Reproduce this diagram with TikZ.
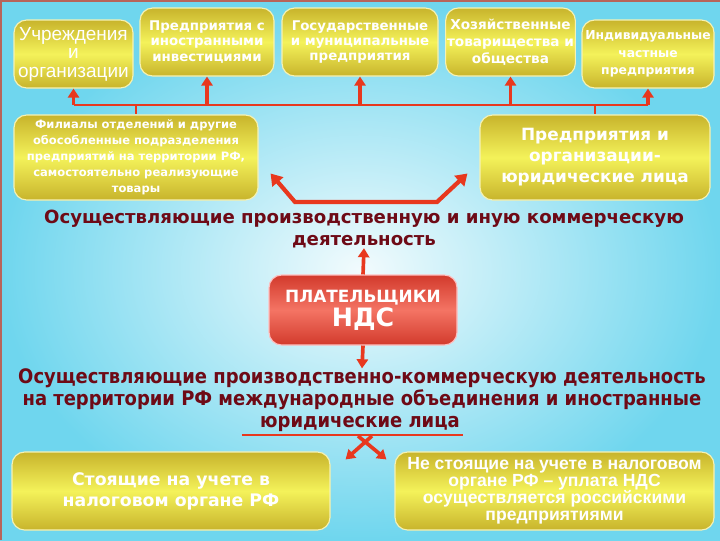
\documentclass[tikz,border=0pt]{standalone}
\usepackage{fontspec}
\setmainfont{DejaVu Sans}
\newfontfamily\arialfont{Liberation Sans}
\newfontfamily\condfont{DejaVu Sans Condensed}
\usetikzlibrary{calc,arrows.meta}
\usepackage{xcolor}

\definecolor{bgin}{HTML}{F2FBFD}
\definecolor{bgout}{HTML}{6FD6EE}
\definecolor{framecol}{HTML}{B8645A}
\definecolor{boxdark}{HTML}{C8B42C}
\definecolor{boxlight}{HTML}{F4F25A}
\definecolor{boxedge}{HTML}{F6F2B4}
\definecolor{reddark}{HTML}{D23A2C}
\definecolor{redlight}{HTML}{F47464}
\definecolor{arrowred}{HTML}{E8381E}
\definecolor{titlecol}{HTML}{6E0A16}

\newcommand{\px}{0.025cm}

\tikzset{
  ybox/.style={rounded corners=9pt, draw=boxedge, line width=0.8pt,
    top color=boxdark, bottom color=boxdark, middle color=boxlight,
    text=white, align=center, inner sep=1pt},
  paybox/.style={rounded corners=9pt, draw=red!25!white, line width=0.8pt,
    top color=reddark, bottom color=reddark, middle color=redlight,
    text=white, align=center, inner sep=1pt},
  busline/.style={draw=arrowred, line width=2pt},
  uparrow/.style={draw=arrowred, line width=2.6pt,
    -{Triangle[width=8pt,length=6.5pt]}},
  fatarrow/.style={draw=arrowred, line width=3pt,
    {Triangle[width=10pt,length=8pt]}-{Triangle[width=10pt,length=8pt]}},
  titletext/.style={text=titlecol, align=center, inner sep=0pt}
}

\begin{document}
\begin{tikzpicture}[x=\px, y=-\px]
    % background
    \useasboundingbox (0,0) rectangle (720,540);
    \fill[inner color=bgin, outer color=bgout] (0,0) rectangle (720,540);
    \draw[framecol, line width=2.2pt] (0.8,540) -- (0.8,0.5) -- (720,0.5);

    % top row
    \node[ybox, minimum width=119*\px, minimum height=68*\px,
      font=\arialfont\fontsize{13.5}{13.2}\selectfont] (ucr) at (73.5,54)
      {Учреждения\\и\\организации};
    \node[ybox, minimum width=134*\px, minimum height=68*\px,
      font=\bfseries\fontsize{9.5}{11.3}\selectfont] (inv) at (207,42)
      {Предприятия с\\иностранными\\инвестициями};
    \node[ybox, minimum width=156*\px, minimum height=68*\px,
      font=\bfseries\fontsize{9.5}{11}\selectfont] (gos) at (360,42)
      {Государственные\\и муниципальные\\предприятия};
    \node[ybox, minimum width=129*\px, minimum height=68*\px,
      font=\bfseries\fontsize{9.7}{12}\selectfont] (hoz) at (510.5,42)
      {Хозяйственные\\товарищества и\\общества};
    \node[ybox, minimum width=132*\px, minimum height=68*\px,
      font=\bfseries\fontsize{8.8}{12.5}\selectfont] (ind) at (648,54)
      {Индивидуальные\\частные\\предприятия};

    % second row
    \node[ybox, minimum width=244*\px, minimum height=85*\px,
      font=\bfseries\fontsize{8.2}{11.4}\selectfont] (fil) at (136,157.5)
      {Филиалы отделений и другие\\обособленные подразделения\\предприятий на территории РФ,\\самостоятельно реализующие\\товары};
    \node[ybox, minimum width=230*\px, minimum height=85*\px,
      font=\bfseries\fontsize{12}{15}\selectfont] (jur) at (595,157.5)
      {Предприятия и\\организации-\\юридические лица};

    % connections to the top row
    \coordinate (bus) at (0,105);
    \draw[busline] (bus -| ucr.south) -- (bus -| ind.south);
    \foreach \n in {ucr,inv,gos,hoz,ind}
        \draw[uparrow] (bus -| \n.south) -- (\n.south);
    \draw[busline] (bus -| fil.north) -- (fil.north);
    \draw[busline] (bus -| jur.north) -- (jur.north);

    % first caption
    \node[titletext, font=\bfseries\fontsize{12.9}{15.5}\selectfont] (act) at (364,229)
      {Осуществляющие производственную и иную коммерческую\\деятельность};
    \coordinate (hl) at (295,202);
    \coordinate (hr) at (437,202);
    \draw[fatarrow] ($(fil.east)+(12,16)$) -- (hl) -- (hr) -- ($(jur.west)+(-12,16)$);

    % payers
    \node[paybox, minimum width=188*\px, minimum height=70*\px] (nds) at (363,310)
      {{\bfseries\fontsize{12}{14}\selectfont ПЛАТЕЛЬЩИКИ}\\[1pt]
       {\bfseries\fontsize{18}{20}\selectfont НДС}};
    \draw[uparrow] (nds.north) -- (act.south);

    % second caption
    \node[titletext, font=\condfont\bfseries\fontsize{14.2}{13.2}\selectfont] (intl) at (362,389)
      {Осуществляющие производственно-коммерческую  деятельность\\на территории РФ международные объединения и  иностранные};
    \node[titletext, font=\condfont\bfseries\fontsize{14.2}{13.2}\selectfont] (jl) at (360,424)
      {юридические лица};
    \draw[uparrow] (nds.south) -- (intl.north);
    \coordinate (ul) at ($(jl.south)+(0,3)$);
    \draw[busline] (ul -| {$(jl.west)+(-18,0)$}) -- (ul -| {$(jl.east)+(3,0)$});

    % bottom row
    \node[ybox, minimum width=318*\px, minimum height=78*\px,
      font=\bfseries\fontsize{12.3}{15}\selectfont] (reg) at (171,491)
      {Стоящие на учете в\\налоговом органе РФ};
    \node[ybox, minimum width=319*\px, minimum height=78*\px,
      font=\arialfont\bfseries\fontsize{12.5}{12}\selectfont] (noreg) at (554.5,491)
      {Не стоящие на учете в налоговом\\органе РФ – уплата НДС\\осуществляется российскими\\предприятиями};
    \draw[uparrow] ($(ul)+(12,1)$) -- ($(reg.north east)+(15,8)$);
    \draw[uparrow] ($(ul)+(-2,1)$) -- ($(noreg.north west)+(-8,8)$);
\end{tikzpicture}
\end{document}
